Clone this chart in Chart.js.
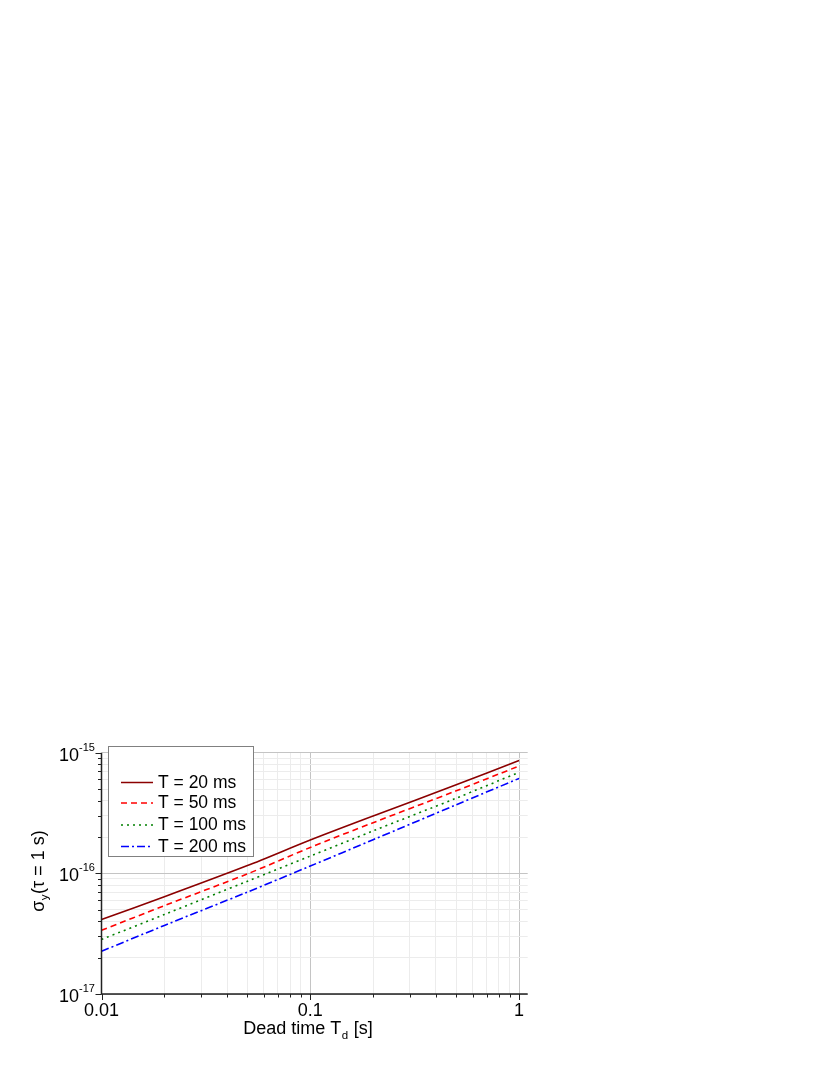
<!DOCTYPE html>
<html>
<head>
<meta charset="utf-8">
<script src="https://cdn.jsdelivr.net/npm/chart.js@4.4.1/dist/chart.umd.min.js"></script>
<style>
html,body{margin:0;padding:0;background:#fff;}
#wrap{width:830px;height:1075px;position:relative;}
</style>
</head>
<body>
<div id="wrap"><canvas id="c" width="830" height="1075"></canvas></div>
<script>
// ---- data ----
const deadTimes = [0.01, 0.02, 0.05, 0.1, 0.2, 0.5, 1];
const seriesLabels = ['T = 20 ms', 'T = 50 ms', 'T = 100 ms', 'T = 200 ms'];
const sigmaT20  = [4.15e-17, 6.4e-17, 1.16e-16, 1.89e-16, 2.99e-16, 5.42e-16, 8.6e-16];
const sigmaT50  = [3.37e-17, 5.4e-17, 9.9e-17, 1.64e-16, 2.63e-16, 4.83e-16, 7.76e-16];
const sigmaT100 = [2.83e-17, 4.56e-17, 8.6e-17, 1.39e-16, 2.25e-16, 4.2e-16, 6.88e-16];
const sigmaT200 = [2.26e-17, 3.7e-17, 7.0e-17, 1.15e-16, 1.9e-16, 3.7e-16, 6.12e-16];
const xTickLabels = ['0.01', '0.1', '1'];
const xTickValues = [0.01, 0.1, 1];
const yTickExponents = ['-17', '-16', '-15'];
const yTickValues = [1e-17, 1e-16, 1e-15];

const colors = ['#8b0000', '#ff0000', '#008000', '#0000ff'];
const dashes = [[], [6, 4], [2, 4], [8, 3, 2, 3]];
const allSeries = [sigmaT20, sigmaT50, sigmaT100, sigmaT200];

function pts(ys){ return deadTimes.map((x,i)=>({x:x, y:ys[i]})); }

function logTicks(min, max){
  const out = [];
  for (let e = Math.floor(Math.log10(min)); e <= Math.ceil(Math.log10(max)); e++){
    for (let m = 1; m <= 9; m++){
      const v = m * Math.pow(10, e);
      if (v >= min*0.9999 && v <= max*1.0001) out.push({value: v, major: m === 1});
    }
  }
  return out;
}
function isMajor(v){ const l = Math.log10(v); return Math.abs(l - Math.round(l)) < 1e-6; }
function gridColor(ctx){
  if (!ctx.tick) return '#eee';
  return isMajor(ctx.tick.value) ? '#c4c4c4' : '#ececec';
}

const FONT = '"Liberation Sans", Arial, sans-serif';

const decor = {
  id: 'decor',
  afterDraw(chart){
    const c = chart.ctx;
    const xs = chart.scales.x, ys = chart.scales.y;
    const a = chart.chartArea;
    c.save();
    // axes
    c.strokeStyle = '#222';
    c.lineWidth = 1.5;
    c.beginPath();
    c.moveTo(a.left, a.top); c.lineTo(a.left, a.bottom); c.lineTo(a.right, a.bottom);
    c.stroke();
    c.lineWidth = 1;
    // x ticks
    logTicks(0.01, 1.1).forEach(t => {
      const px = Math.round(xs.getPixelForValue(t.value)) + 0.5;
      c.beginPath(); c.moveTo(px, a.bottom); c.lineTo(px, a.bottom + (t.major ? 6 : 3.5)); c.stroke();
    });
    // y ticks
    logTicks(1e-17, 1e-15).forEach(t => {
      const py = Math.round(ys.getPixelForValue(t.value)) + 0.5;
      c.beginPath(); c.moveTo(a.left, py); c.lineTo(a.left - (t.major ? 6 : 3.5), py); c.stroke();
    });
    // x tick labels
    c.fillStyle = '#000';
    c.font = '18px ' + FONT;
    c.textAlign = 'center'; c.textBaseline = 'alphabetic';
    xTickValues.forEach((v, i) => {
      c.fillText(xTickLabels[i], xs.getPixelForValue(v), 1016);
    });
    // y tick labels 10^n
    yTickValues.forEach((v, i) => {
      const py = ys.getPixelForValue(v);
      c.font = '18px ' + FONT;
      c.textAlign = 'right'; c.textBaseline = 'alphabetic';
      c.fillText('10', 79, py + 8);
      c.font = '11px ' + FONT;
      c.textAlign = 'left';
      c.fillText(yTickExponents[i], 79, py - 2);
    });
    // x title
    c.textAlign = 'left'; c.textBaseline = 'alphabetic';
    const F = '18px ' + FONT, S = '11.5px ' + FONT;
    const p1 = 'Dead time T', p2 = 'd', p3 = ' [s]';
    c.font = F; const w1 = c.measureText(p1).width;
    c.font = S; const w2 = c.measureText(p2).width;
    c.font = F; const w3 = c.measureText(p3).width;
    let x0 = 308 - (w1 + w2 + 1 + w3) / 2;
    c.font = F; c.fillText(p1, x0, 1034);
    c.font = S; c.fillText(p2, x0 + w1 + 0.5, 1039);
    c.font = F; c.fillText(p3, x0 + w1 + w2 + 1, 1034);
    // y title rotated
    c.save();
    c.translate(44, 871);
    c.rotate(-Math.PI / 2);
    const q1 = 'σ', q2 = 'y', q3 = '(τ = 1 s)';
    c.font = F; const v1 = c.measureText(q1).width;
    c.font = S; const v2 = c.measureText(q2).width;
    c.font = F; const v3 = c.measureText(q3).width;
    let y0 = -(v1 + v2 + 1 + v3) / 2;
    c.font = F; c.fillText(q1, y0, 0);
    c.font = S; c.fillText(q2, y0 + v1 + 0.5, 4);
    c.font = F; c.fillText(q3, y0 + v1 + v2 + 1, 0);
    c.restore();
    // legend
    const lx = 108.5, ly = 746.5, lw = 145, lh = 110;
    c.fillStyle = '#fff';
    c.fillRect(lx, ly, lw, lh);
    c.strokeStyle = '#808080'; c.lineWidth = 1;
    c.strokeRect(lx, ly, lw, lh);
    const rows = [782.5, 803, 825, 846.5];
    chart.data.datasets.forEach((ds, i) => {
      c.strokeStyle = ds.borderColor; c.lineWidth = 1.5;
      c.setLineDash(ds.borderDash || []);
      c.beginPath(); c.moveTo(121, rows[i]); c.lineTo(153, rows[i]); c.stroke();
      c.setLineDash([]);
      c.fillStyle = '#000';
      c.font = '17.5px ' + FONT; c.textAlign = 'left'; c.textBaseline = 'middle';
      c.fillText(ds.label, 158, rows[i] + 0.5);
    });
    c.restore();
  }
};

new Chart(document.getElementById('c'), {
  type: 'scatter',
  data: {
    datasets: seriesLabels.map((lab, i) => ({
      label: lab,
      data: pts(allSeries[i]),
      showLine: true,
      borderColor: colors[i],
      backgroundColor: colors[i],
      borderDash: dashes[i],
      borderWidth: 1.6,
      pointRadius: 0,
      tension: 0.3,
      fill: false
    }))
  },
  options: {
    responsive: false,
    animation: false,
    devicePixelRatio: 1,
    layout: { padding: { left: 101.5, top: 752.7, right: 302.3, bottom: 81 } },
    plugins: { legend: { display: false }, tooltip: { enabled: false }, title: { display: false } },
    scales: {
      x: {
        type: 'logarithmic', min: 0.01, max: 1.1,
        afterBuildTicks: s => { s.ticks = logTicks(0.01, 1.1).map(t => ({value: t.value})); },
        ticks: { display: false },
        grid: { color: gridColor, lineWidth: 1, drawTicks: false },
        border: { display: false }
      },
      y: {
        type: 'logarithmic', min: 1e-17, max: 1e-15,
        afterBuildTicks: s => { s.ticks = logTicks(1e-17, 1e-15).map(t => ({value: t.value})); },
        ticks: { display: false },
        grid: { color: gridColor, lineWidth: 1, drawTicks: false },
        border: { display: false }
      }
    }
  },
  plugins: [decor]
});
</script>
</body>
</html>
